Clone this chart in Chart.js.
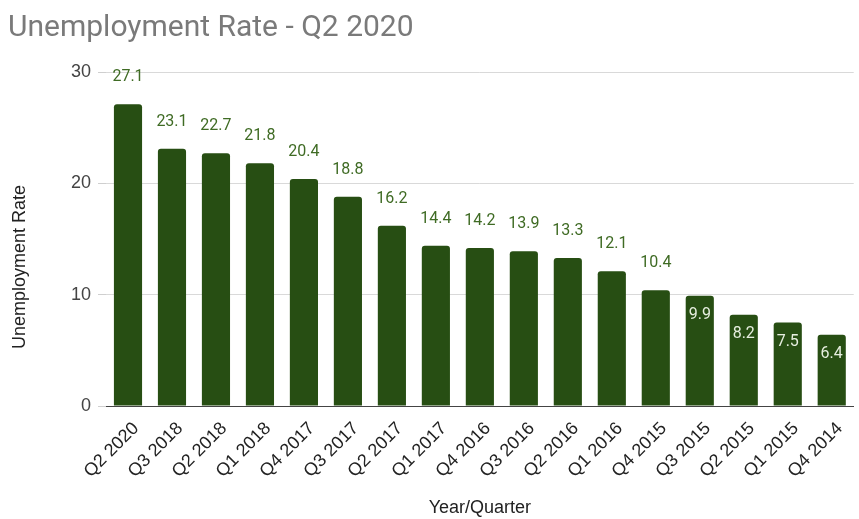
<!DOCTYPE html>
<html>
<head>
<meta charset="utf-8">
<script src="https://cdn.jsdelivr.net/npm/chart.js@4"></script>
<style>
  html, body { margin: 0; padding: 0; background: #fff; }
  #wrap { width: 859px; height: 519px; position: relative; }
</style>
</head>
<body>
<div id="wrap"><canvas id="myChart"></canvas></div>
<script>
const quarters = ['Q2 2020', 'Q3 2018', 'Q2 2018', 'Q1 2018', 'Q4 2017', 'Q3 2017', 'Q2 2017', 'Q1 2017',
    'Q4 2016', 'Q3 2016', 'Q2 2016', 'Q1 2016', 'Q4 2015', 'Q3 2015', 'Q2 2015', 'Q1 2015', 'Q4 2014'];
const rates = [27.1, 23.1, 22.7, 21.8, 20.4, 18.8, 16.2, 14.4, 14.2, 13.9, 13.3, 12.1, 10.4, 9.9, 8.2, 7.5, 6.4];
const yTicks = [0, 10, 20, 30];
const yTitle = 'Unemployment Rate';

// labels drawn over each bar (above it, or inside when the bar is short)
const barLabels = {
    id: 'barLabels',
    afterDatasetsDraw(chart) {
        const ctx = chart.ctx;
        const meta = chart.getDatasetMeta(0);
        ctx.save();
        ctx.font = '16px Roboto, "Noto Sans", sans-serif';
        ctx.textAlign = 'center';
        ctx.textBaseline = 'middle';
        meta.data.forEach((bar, i) => {
            const v = rates[i];
            if (v < 10) {
                ctx.fillStyle = '#e6eedf';
                ctx.fillText(v.toString(), bar.x, bar.y + 19);
            } else {
                ctx.fillStyle = '#3f6b24';
                ctx.fillText(v.toString(), bar.x, bar.y - 27);
            }
        });
        ctx.restore();
    }
};

// y axis title sits a bit lower than the plot centre in the original
const yAxisTitle = {
    id: 'yAxisTitle',
    afterDraw(chart) {
        const ctx = chart.ctx;
        ctx.save();
        ctx.translate(20, 267);
        ctx.rotate(-Math.PI / 2);
        ctx.font = '18px Arial, "Liberation Sans", sans-serif';
        ctx.fillStyle = '#222';
        ctx.textAlign = 'center';
        ctx.textBaseline = 'middle';
        ctx.fillText(yTitle, 0, 0);
        ctx.restore();
    }
};

const ctx = document.getElementById('myChart');

new Chart(ctx, {
    type: 'bar',
    data: {
        labels: quarters,
        datasets: [{
            label: yTitle,
            data: rates,
            backgroundColor: '#274e13',
            borderRadius: { topLeft: 3, topRight: 3 },
            borderSkipped: 'bottom',
            barPercentage: 0.64,
            categoryPercentage: 1
        }]
    },
    options: {
        responsive: true,
        maintainAspectRatio: false,
        animation: false,
        layout: { padding: { left: 8, right: 0, top: 0, bottom: 0 } },
        plugins: {
            legend: { display: false },
            tooltip: { enabled: false },
            title: {
                display: true,
                text: 'Unemployment Rate - Q2 2020',
                align: 'start',
                color: '#7a7a7a',
                font: { family: 'Roboto, "Noto Sans", sans-serif', size: 30, weight: 'normal' },
                padding: { top: 10, bottom: 26 }
            }
        },
        scales: {
            x: {
                afterFit(axis) { axis.height = 113; },
                grid: { display: false, drawTicks: false },
                border: { color: '#444', width: 1 },
                ticks: {
                    color: '#222',
                    minRotation: 45,
                    maxRotation: 45,
                    autoSkip: false,
                    padding: 12,
                    labelOffset: 8,
                    font: { family: 'Arial, "Liberation Sans", sans-serif', size: 18 }
                },
                title: {
                    display: true,
                    text: 'Year/Quarter',
                    color: '#222',
                    font: { family: 'Arial, "Liberation Sans", sans-serif', size: 18 },
                    padding: { top: 0, bottom: 0 }
                }
            },
            y: {
                min: 0,
                max: 30,
                afterFit(axis) { axis.width = 98; },
                afterBuildTicks(axis) {
                    axis.ticks = yTicks.map(v => ({ value: v }));
                },
                grid: { color: '#d9d9d9', tickLength: 8, tickColor: '#cfcfcf' },
                border: { display: false },
                ticks: {
                    color: '#444',
                    padding: 7,
                    font: { family: 'Arial, "Liberation Sans", sans-serif', size: 18 }
                },
                title: { display: false }
            }
        }
    },
    plugins: [barLabels, yAxisTitle]
});
</script>
</body>
</html>
